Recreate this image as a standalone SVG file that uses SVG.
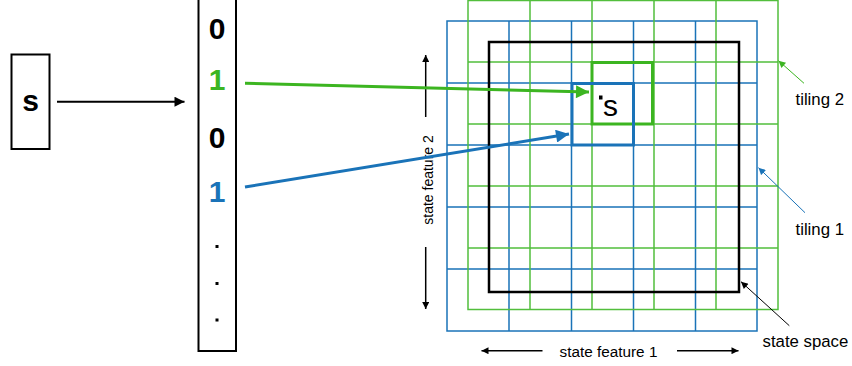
<svg xmlns="http://www.w3.org/2000/svg" width="852" height="366" viewBox="0 0 852 366">
<defs>
<style>
.box{fill:#fff;stroke:#000;stroke-width:2}
.big{font-family:"Liberation Sans",Arial,sans-serif;font-size:30px;font-weight:bold;text-anchor:middle}
.lbl{font-family:"Liberation Sans",Arial,sans-serif;font-size:16.8px;fill:#000}
.gb{stroke:#1a73b8;stroke-width:1.5;fill:none}
.gg{stroke:#52be3c;stroke-width:1.5;fill:none}
</style>
<marker id="ak" viewBox="0 0 10 10" refX="10" refY="5" markerWidth="13" markerHeight="10" markerUnits="userSpaceOnUse" orient="auto"><path d="M0,0L10,5L0,10z" fill="#000"/></marker>
<marker id="ag" viewBox="0 0 10 10" refX="10" refY="5" markerWidth="18" markerHeight="13" markerUnits="userSpaceOnUse" orient="auto"><path d="M0,0L10,5L0,10z" fill="#3cb521"/></marker>
<marker id="ab" viewBox="0 0 10 10" refX="10" refY="5" markerWidth="18" markerHeight="13" markerUnits="userSpaceOnUse" orient="auto"><path d="M0,0L10,5L0,10z" fill="#1a73b8"/></marker>
<marker id="sk" viewBox="0 0 10 10" refX="10" refY="5" markerWidth="9" markerHeight="7" markerUnits="userSpaceOnUse" orient="auto"><path d="M0,0L10,5L0,10z" fill="#000"/></marker>
<marker id="sg" viewBox="0 0 10 10" refX="10" refY="5" markerWidth="9" markerHeight="7" markerUnits="userSpaceOnUse" orient="auto"><path d="M0,0L10,5L0,10z" fill="#3cb521"/></marker>
<marker id="sb" viewBox="0 0 10 10" refX="10" refY="5" markerWidth="9" markerHeight="7" markerUnits="userSpaceOnUse" orient="auto"><path d="M0,0L10,5L0,10z" fill="#1a73b8"/></marker>
</defs>
<rect width="852" height="366" fill="#fff"/>

<g id="tiling1">
<rect class="gb" x="447" y="21" width="310" height="310"/>
<path class="gb" d="M509,21V331M571.5,21V331M633.5,21V331M695.5,21V331M447,83H757M447,145H757M447,207H757M447,269H757"/>
</g>
<g id="tiling2">
<rect class="gg" x="468" y="0.5" width="310" height="309"/>
<path class="gg" d="M530,0V309.5M592,0V309.5M654,0V309.5M716,0V309.5M468,62H778M468,124H778M468,186H778M468,248H778"/>
</g>
<g id="state-space">
<rect x="489" y="42" width="250" height="250" fill="none" stroke="#000" stroke-width="2.5"/>
</g>
<g id="cell-green">
<rect x="592" y="62.5" width="60.5" height="61.5" fill="none" stroke="#3cb521" stroke-width="3"/>
</g>
<g id="cell-blue">
<rect x="572" y="83.5" width="61.5" height="61.5" fill="none" stroke="#1a73b8" stroke-width="3"/>
</g>
<g id="point">
<rect x="599" y="95.5" width="3.5" height="4" fill="#000"/>
<text x="603" y="115.5" font-family="'Liberation Sans',Arial,sans-serif" font-size="30">s</text>
</g>

<g id="s-box">
<rect class="box" x="11.5" y="54.5" width="38" height="94.5"/>
<text class="big" x="30.5" y="110.5">s</text>
</g>
<g id="vector">
<rect class="box" x="198.5" y="-3" width="37.5" height="354"/>
<text class="big" x="217" y="38.5">0</text>
<text class="big" x="217" y="90" fill="#3cb521">1</text>
<text class="big" x="217" y="147.5">0</text>
<text class="big" x="217" y="201.5" fill="#1a73b8">1</text>
<rect x="215.5" y="245" width="3" height="3" fill="#000"/>
<rect x="215.5" y="282" width="3" height="3" fill="#000"/>
<rect x="215.5" y="318.5" width="3" height="3" fill="#000"/>
</g>

<g id="axes">
<line x1="425.7" y1="117" x2="425.7" y2="55" stroke="#000" stroke-width="1.5" marker-end="url(#sk)"/>
<line x1="425.7" y1="247" x2="425.7" y2="309" stroke="#000" stroke-width="1.5" marker-end="url(#sk)"/>
<text class="lbl" style="font-size:14px" text-anchor="middle" transform="translate(432.5,180) rotate(-90)">state feature 2</text>
<line x1="542.5" y1="350.7" x2="481.5" y2="350.7" stroke="#000" stroke-width="1.5" marker-end="url(#sk)"/>
<line x1="677" y1="350.7" x2="738.5" y2="350.7" stroke="#000" stroke-width="1.5" marker-end="url(#sk)"/>
<text class="lbl" style="font-size:15.3px" x="608.5" y="356.5" text-anchor="middle">state feature 1</text>
</g>

<g id="labels">
<text class="lbl" x="795.5" y="105">tiling 2</text>
<text class="lbl" x="795.5" y="235">tiling 1</text>
<text class="lbl" x="762.5" y="347">state space</text>
</g>

<g id="connectors">
<line x1="57" y1="101.7" x2="184.5" y2="101.7" stroke="#000" stroke-width="2" marker-end="url(#ak)"/>
<line x1="245" y1="83.3" x2="589" y2="92" stroke="#3cb521" stroke-width="3" marker-end="url(#ag)"/>
<line x1="245" y1="187" x2="569" y2="134" stroke="#1a73b8" stroke-width="3" marker-end="url(#ab)"/>
<line x1="804" y1="83.3" x2="778.5" y2="60.7" stroke="#3cb521" stroke-width="1" marker-end="url(#sg)"/>
<line x1="805" y1="212.7" x2="758.5" y2="167.7" stroke="#1a73b8" stroke-width="1" marker-end="url(#sb)"/>
<line x1="789.3" y1="325.7" x2="741" y2="281.7" stroke="#000" stroke-width="1" marker-end="url(#sk)"/>
</g>
</svg>
